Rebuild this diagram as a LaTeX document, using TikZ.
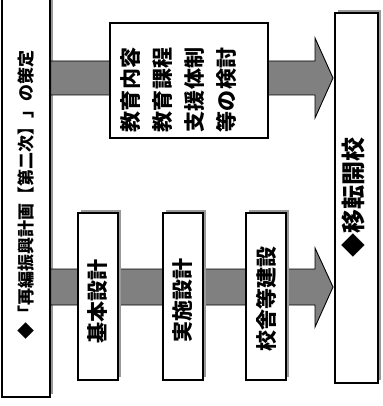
\documentclass[tikz,border=0pt]{standalone}
\usepackage{fontspec}
\newfontfamily\jp{Noto Sans CJK JP}
\begin{document}
\begin{tikzpicture}[x=1pt,y=-1pt,
  box/.style={draw, line width=1.5pt, fill=white, inner sep=0pt},
  shad/.style={fill=black!40, draw=none},
  band/.style={fill=black!50, draw=black, line width=0.9pt},
  lbl/.style={rotate=90, font=\jp\bfseries, inner sep=0pt}]
\useasboundingbox (0,0) rectangle (382,406);
% big side boxes with shadows
\fill[shad] (5,-8) rectangle (53,394);
\node[box, minimum width=48pt, minimum height=402pt] (L) at (26,196) {};
\fill[shad] (338,10) rectangle (381,380);
\node[box, minimum width=43pt, minimum height=370pt] (R) at (356.5,198) {};
% thick arrows
\draw[band] (L.east |- 0,61) -- (315,61) -- (315,38) -- (333,78) -- (315,118) -- (315,95) -- (L.east |- 0,95) -- cycle;
\draw[band] (L.east |- 0,269) -- (315,269) -- (315,248) -- (333,287) -- (315,327) -- (315,305) -- (L.east |- 0,305) -- cycle;
% middle boxes
\node[box, minimum width=158pt, minimum height=115pt] (M) at (189,80.5) {};
\fill[shad] (81,210) rectangle (121,377);
\node[box, minimum width=40pt, minimum height=167pt] (B1) at (98,296.5) {};
\fill[shad] (166,210) rectangle (206,377);
\node[box, minimum width=40pt, minimum height=167pt] (B2) at (183,296.5) {};
\fill[shad] (249,210) rectangle (289,377);
\node[box, minimum width=40pt, minimum height=167pt] (B3) at (266,296.5) {};
% texts
\node[lbl, font=\jp\bfseries\fontsize{17}{20}\selectfont] (Lt) at ([yshift=1pt]L.center) {◆「再編振興計画【第二次】」の策定};
\node[lbl, font=\jp\bfseries\fontsize{21}{32}\selectfont, align=left] (Mt) at ([xshift=-10.5pt,yshift=-9.5pt]M.center) {教育内容\\教育課程\\支援体制\\等の検討};
\node[lbl, font=\jp\bfseries\fontsize{21}{24}\selectfont] (B1t) at ([yshift=-4.5pt]B1.center) {基本設計};
\node[lbl, font=\jp\bfseries\fontsize{21}{24}\selectfont] (B2t) at ([yshift=-3.5pt]B2.center) {実施設計};
\node[lbl, font=\jp\bfseries\fontsize{21}{24}\selectfont] (B3t) at ([yshift=-2.5pt]B3.center) {校舎等建設};
\node[lbl, font=\jp\bfseries\fontsize{24}{28}\selectfont] (Rt) at ([xshift=-3pt,yshift=1pt]R.center) {◆移転開校};
\end{tikzpicture}
\end{document}
